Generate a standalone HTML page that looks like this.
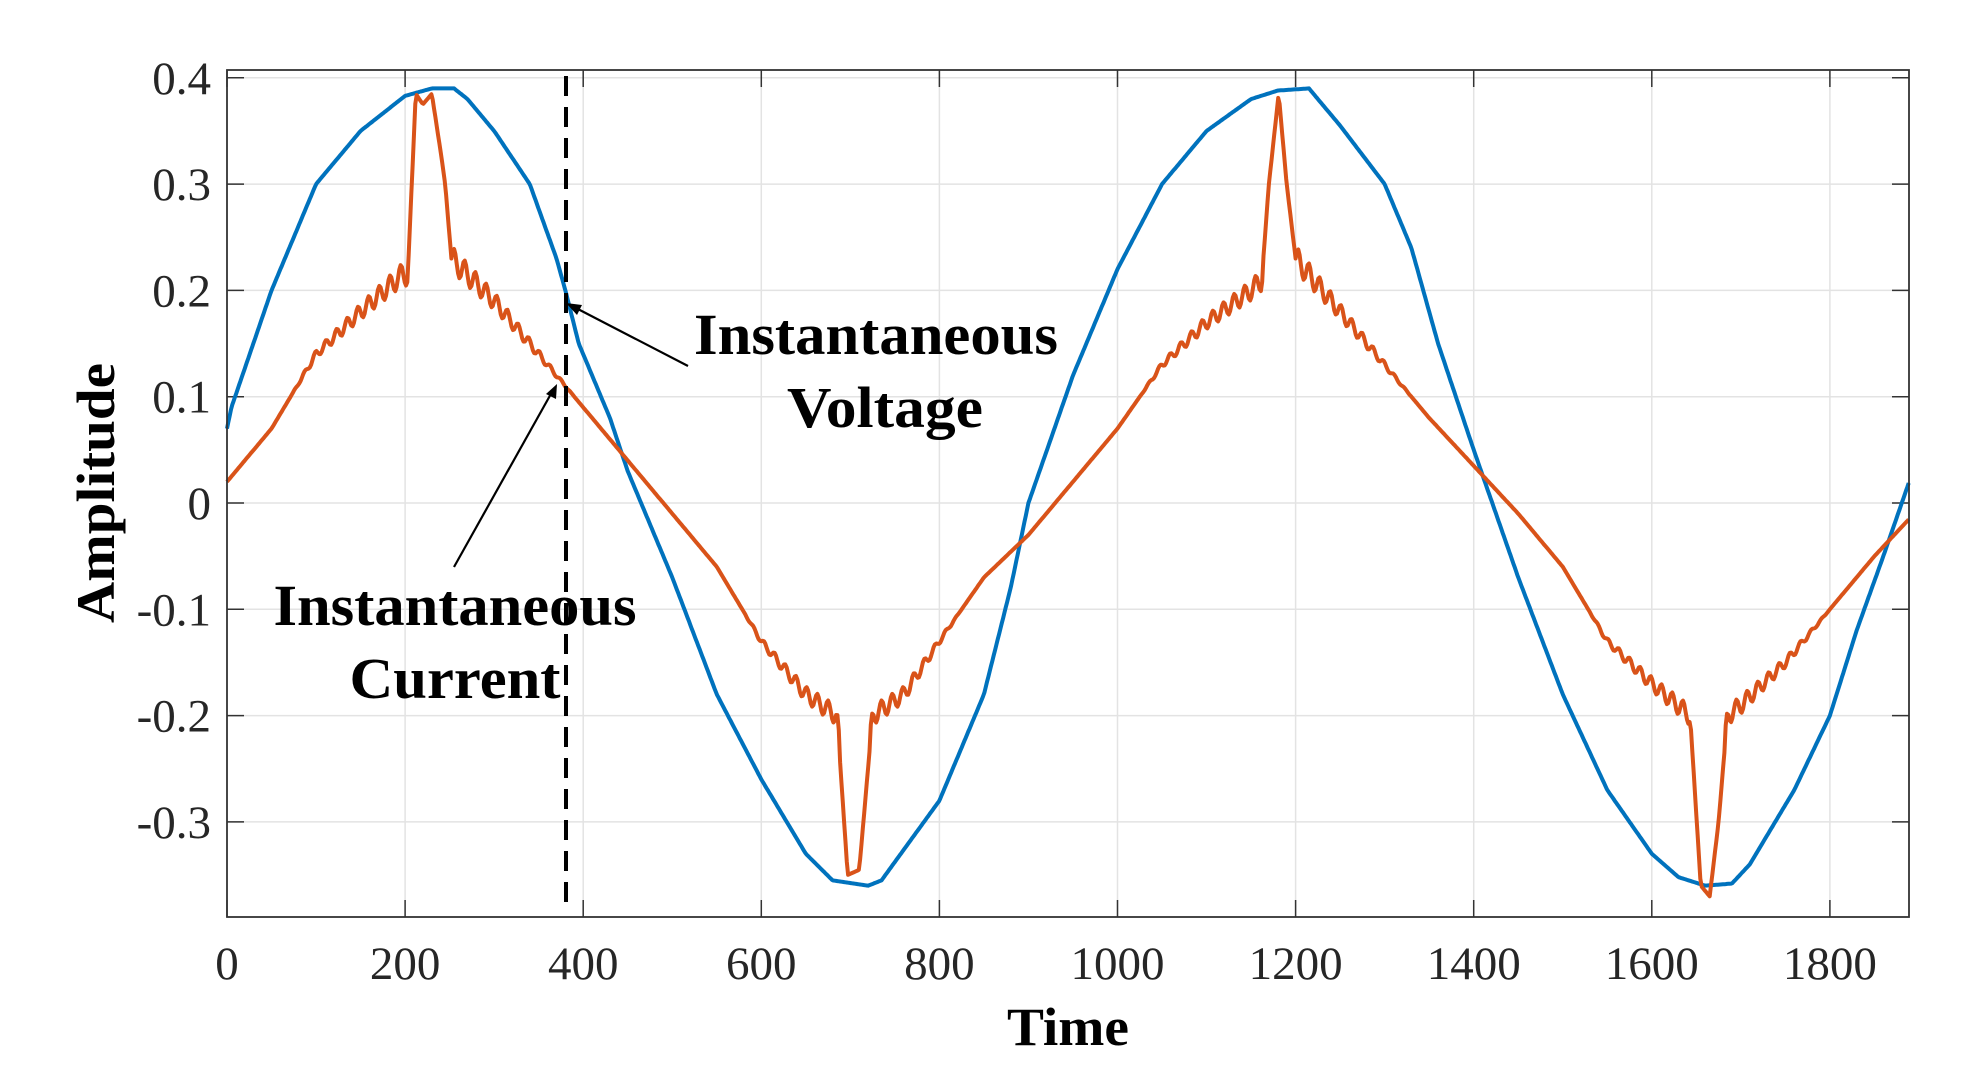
<!DOCTYPE html>
<html><head><meta charset="utf-8"><style>
html,body{margin:0;padding:0;background:#fff;}
svg{display:block;}
text{font-family:"Liberation Serif",serif;}
</style></head><body>
<svg id="s" width="1968" height="1080" xmlns="http://www.w3.org/2000/svg">
<rect width="1968" height="1080" fill="#fff"/>
<g id="grid" stroke="#e3e3e3" stroke-width="1.5"></g>
<g id="ticks" stroke="#333" stroke-width="1.5"></g>
<g id="labels" font-size="47" fill="#262626"></g>
<polyline id="volt" fill="none" stroke="#0072BD" stroke-width="4" stroke-linejoin="round"/>
<polyline id="curr" fill="none" stroke="#D95319" stroke-width="4" stroke-linejoin="round"/>
<rect x="227" y="70" width="1682" height="847" fill="none" stroke="#333" stroke-width="1.8"/>
<line x1="566" y1="76" x2="566" y2="906" stroke="#000" stroke-width="4" stroke-dasharray="20,11"/>
<line x1="688" y1="366" x2="574" y2="307" stroke="#000" stroke-width="2.2"/>
<polygon points="566,303 582,305 577,315" fill="#000"/>
<line x1="454" y1="567" x2="552" y2="392" stroke="#000" stroke-width="2.2"/>
<polygon points="557,384 556,399 546,394" fill="#000"/>
<g font-weight="bold" font-size="58" fill="#000">
<text x="876" y="354" text-anchor="middle" textLength="364" lengthAdjust="spacingAndGlyphs">Instantaneous</text>
<text x="885" y="427" text-anchor="middle" textLength="196" lengthAdjust="spacingAndGlyphs">Voltage</text>
<text x="455" y="625" text-anchor="middle" textLength="363" lengthAdjust="spacingAndGlyphs">Instantaneous</text>
<text x="455" y="698" text-anchor="middle" textLength="211" lengthAdjust="spacingAndGlyphs">Current</text>
<text x="1068" y="1045" text-anchor="middle" font-size="54" textLength="122" lengthAdjust="spacingAndGlyphs">Time</text>
<text transform="translate(114,493) rotate(-90)" text-anchor="middle" font-size="54" textLength="260" lengthAdjust="spacingAndGlyphs">Amplitude</text>
</g>
</svg>
<script>
const X=t=>227+t*0.8905, Y=v=>503-v*1063;
const g=document.getElementById('grid'),tk=document.getElementById('ticks'),lb=document.getElementById('labels');
function L(p,x1,y1,x2,y2){const l=document.createElementNS('http://www.w3.org/2000/svg','line');l.setAttribute('x1',x1);l.setAttribute('y1',y1);l.setAttribute('x2',x2);l.setAttribute('y2',y2);p.appendChild(l);}
function T(x,y,s,a){const t=document.createElementNS('http://www.w3.org/2000/svg','text');t.setAttribute('x',x);t.setAttribute('y',y);t.setAttribute('text-anchor',a);t.textContent=s;lb.appendChild(t);}
for(let t=0;t<=1800;t+=200){const x=X(t);if(t>0)L(g,x,70,x,917);L(tk,x,917,x,900);L(tk,x,70,x,87);T(x,979,String(t),'middle');}
const yl=['-0.3','-0.2','-0.1','0','0.1','0.2','0.3','0.4'];
for(let i=0;i<8;i++){const v=-0.3+i*0.1,y=Y(v);L(g,227,y,1909,y);L(tk,227,y,244,y);L(tk,1909,y,1892,y);T(211,y+16,yl[i],'end');}
function interp(k,t){for(let i=0;i<k.length-1;i++){if(t>=k[i][0]&&t<=k[i+1][0]){const f=(t-k[i][0])/(k[i+1][0]-k[i][0]);return k[i][1]+f*(k[i+1][1]-k[i][1]);}}return k[k.length-1][1];}
const V=[[0,0.07],[5,0.09],[50,0.2],[100,0.3],[150,0.35],[200,0.383],[230,0.39],[255,0.39],[270,0.38],[300,0.35],[340,0.3],[370,0.23],[380,0.2],[395,0.15],[410,0.12],[430,0.08],[450,0.03],[500,-0.07],[550,-0.18],[600,-0.26],[650,-0.33],[680,-0.355],[720,-0.36],[735,-0.355],[800,-0.28],[850,-0.18],[880,-0.08],[900,0.0],[950,0.12],[1000,0.22],[1050,0.3],[1100,0.35],[1150,0.38],[1180,0.388],[1215,0.39],[1230,0.375],[1250,0.355],[1300,0.3],[1330,0.24],[1360,0.15],[1380,0.1],[1400,0.05],[1450,-0.07],[1500,-0.18],[1550,-0.27],[1600,-0.33],[1630,-0.352],[1660,-0.36],[1690,-0.358],[1710,-0.34],[1760,-0.27],[1800,-0.2],[1830,-0.12],[1860,-0.05],[1889,0.02]];
const C=[[0,0.02],[50,0.07],[100,0.14],[150,0.18],[197,0.215],[203,0.215],[212,0.385],[220,0.375],[230,0.385],[240,0.33],[245,0.3],[252,0.23],[300,0.19],[350,0.14],[380,0.11],[400,0.09],[450,0.04],[500,-0.01],[550,-0.06],[600,-0.13],[650,-0.18],[685,-0.2],[697,-0.35],[710,-0.345],[725,-0.2],[760,-0.18],[800,-0.13],[850,-0.07],[900,-0.03],[950,0.02],[1000,0.07],[1050,0.13],[1100,0.17],[1150,0.2],[1162,0.21],[1170,0.3],[1181,0.385],[1190,0.3],[1200,0.23],[1250,0.18],[1300,0.13],[1350,0.08],[1400,0.035],[1450,-0.01],[1500,-0.06],[1550,-0.13],[1600,-0.17],[1643,-0.2],[1655,-0.36],[1665,-0.37],[1675,-0.3],[1685,-0.2],[1700,-0.19],[1750,-0.15],[1800,-0.1],[1850,-0.05],[1889,-0.015]];
let pv=[],pc=[];
for(let t=0;t<=1889;t+=1.5){
 pv.push(X(t).toFixed(1)+','+Y(interp(V,t)).toFixed(1));
 let c=interp(C,t);const a=Math.abs(c);
 if(a>0.1&&a<0.23)c+=Math.sin(t*2*Math.PI/12)*0.009*(a-0.1)/0.1;
 pc.push(X(t).toFixed(1)+','+Y(c).toFixed(1));
}
document.getElementById('volt').setAttribute('points',pv.join(' '));
document.getElementById('curr').setAttribute('points',pc.join(' '));
</script>
</body></html>
